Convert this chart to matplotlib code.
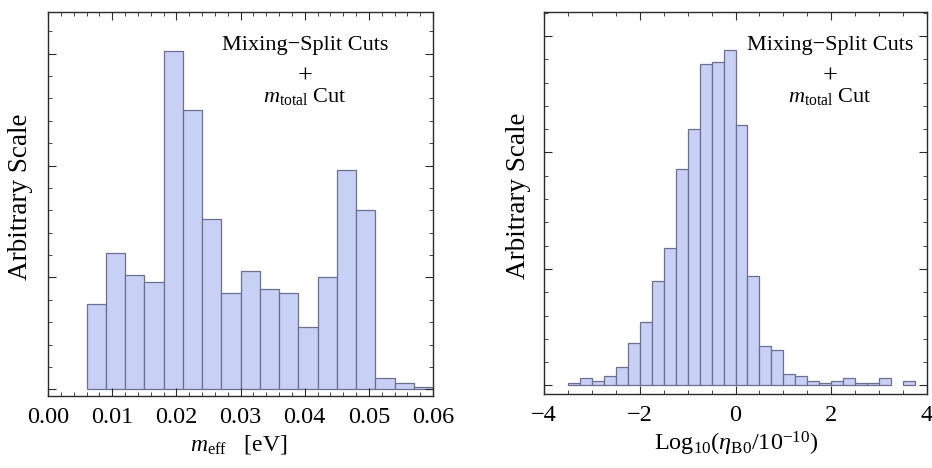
import numpy as np
import matplotlib
matplotlib.use("Agg")
import matplotlib.pyplot as plt
from matplotlib.ticker import MultipleLocator

plt.rcParams['font.family'] = ['Liberation Serif', 'DejaVu Serif']
plt.rcParams['mathtext.fontset'] = 'custom'
plt.rcParams['mathtext.rm'] = 'Liberation Serif'
plt.rcParams['mathtext.it'] = 'Liberation Serif:italic'
plt.rcParams['mathtext.bf'] = 'Liberation Serif:bold'

# Left histogram: m_eff [eV], bins of 0.003 from 0.006 to 0.060
meff_edges = [0.006, 0.009, 0.012, 0.015, 0.018, 0.021, 0.024, 0.027, 0.030, 0.033,
              0.036, 0.039, 0.042, 0.045, 0.048, 0.051, 0.054, 0.057, 0.060]
meff_counts = [38, 61, 51, 48, 151, 125, 76, 43, 53, 45, 43, 28, 50, 98, 80, 5, 3, 1]

# Right histogram: log10(eta_B0/1e-10), bins of 0.25 from -3.5 to 3.75
eta_edges = [-3.5, -3.25, -3.0, -2.75, -2.5, -2.25, -2.0, -1.75, -1.5, -1.25, -1.0,
             -0.75, -0.5, -0.25, 0.0, 0.25, 0.5, 0.75, 1.0, 1.25, 1.5, 1.75, 2.0,
             2.25, 2.5, 2.75, 3.0, 3.25, 3.5, 3.75]
eta_counts = [1, 3, 2, 4, 8, 18, 27, 45, 59, 93, 110, 138, 139, 144, 112, 47, 17, 15,
              5, 4, 2, 1, 2, 3, 1, 1, 3, 0, 2]

meff_ticks = [0, 0.01, 0.02, 0.03, 0.04, 0.05, 0.06]
meff_ticklabels = ['0.00', '0.01', '0.02', '0.03', '0.04', '0.05', '0.06']
eta_ticks = [-4, -2, 0, 2, 4]
eta_ticklabels = ['\u22124', '\u22122', '0', '2', '4']

face = '#c8d0f5'
edge = '#6c7090'
frame_col = '#2a2a2a'

W, H = 932, 468
fig = plt.figure(figsize=(W/100, H/100), dpi=100)
ax1 = fig.add_axes([48/W, 1-396/H, 385/W, 384/H])
ax2 = fig.add_axes([544/W, 1-394/H, 383/W, 382/H])

def draw(ax, edges, counts):
    edges = np.asarray(edges)
    widths = np.diff(edges)
    counts = np.asarray(counts)
    mask = counts > 0
    ax.bar(edges[:-1][mask], counts[mask], width=widths[mask], align='edge',
           color=face, edgecolor=edge, linewidth=0.9)

def style(ax, ylab_x):
    for s in ax.spines.values():
        s.set_color(frame_col)
        s.set_linewidth(1.0)
    ax.tick_params(which='both', direction='in', top=True, right=True,
                   color=frame_col, labelsize=17.5, pad=8)
    ax.tick_params(which='major', length=5.5, width=0.8)
    ax.tick_params(which='minor', length=3, width=0.6)
    ax.tick_params(axis='y', which='both', labelleft=False)
    ax.set_ylabel('Arbitrary Scale', fontsize=19.5)
    ax.yaxis.set_label_coords(ylab_x, 0.52)

def annotate(cx, top_base):
    fig.text(cx/W, 1-top_base/H, 'Mixing\u2212Split Cuts', ha='center',
             va='baseline', fontsize=16)
    fig.text(cx/W, 1-(top_base+33)/H, '+', ha='center', va='baseline', fontsize=19)
    fig.text(cx/W, 1-(top_base+52)/H, '$m_{\\rm total}$ Cut', ha='center',
             va='baseline', fontsize=16)

draw(ax1, meff_edges, meff_counts)
ax1.set_xlim(0, 0.06)
ax1.set_ylim(-3, 168.6)
ax1.xaxis.set_minor_locator(MultipleLocator(0.002))
ax1.yaxis.set_major_locator(MultipleLocator(50))
ax1.yaxis.set_minor_locator(MultipleLocator(10))
ax1.set_xticks(meff_ticks)
ax1.set_xticklabels(meff_ticklabels)
style(ax1, -0.040)
fig.text(239/W, 1-451/H, '$m_{\\rm eff}$   [eV]', ha='center', va='baseline', fontsize=17)
annotate(305, 50)

draw(ax2, eta_edges, eta_counts)
ax2.set_xlim(-4, 4)
ax2.set_ylim(-3.7, 160.3)
ax2.xaxis.set_minor_locator(MultipleLocator(0.5))
ax2.yaxis.set_major_locator(MultipleLocator(50))
ax2.yaxis.set_minor_locator(MultipleLocator(10))
ax2.set_xticks(eta_ticks)
ax2.set_xticklabels(eta_ticklabels)
style(ax2, -0.035)
fig.text(736/W, 1-451/H, 'Log$_{10}$($\\eta_{\\rm B0}$/10$^{-10}$)', ha='center',
         va='baseline', fontsize=17.5)
annotate(830, 50)

fig.savefig('out.png', dpi=100)
